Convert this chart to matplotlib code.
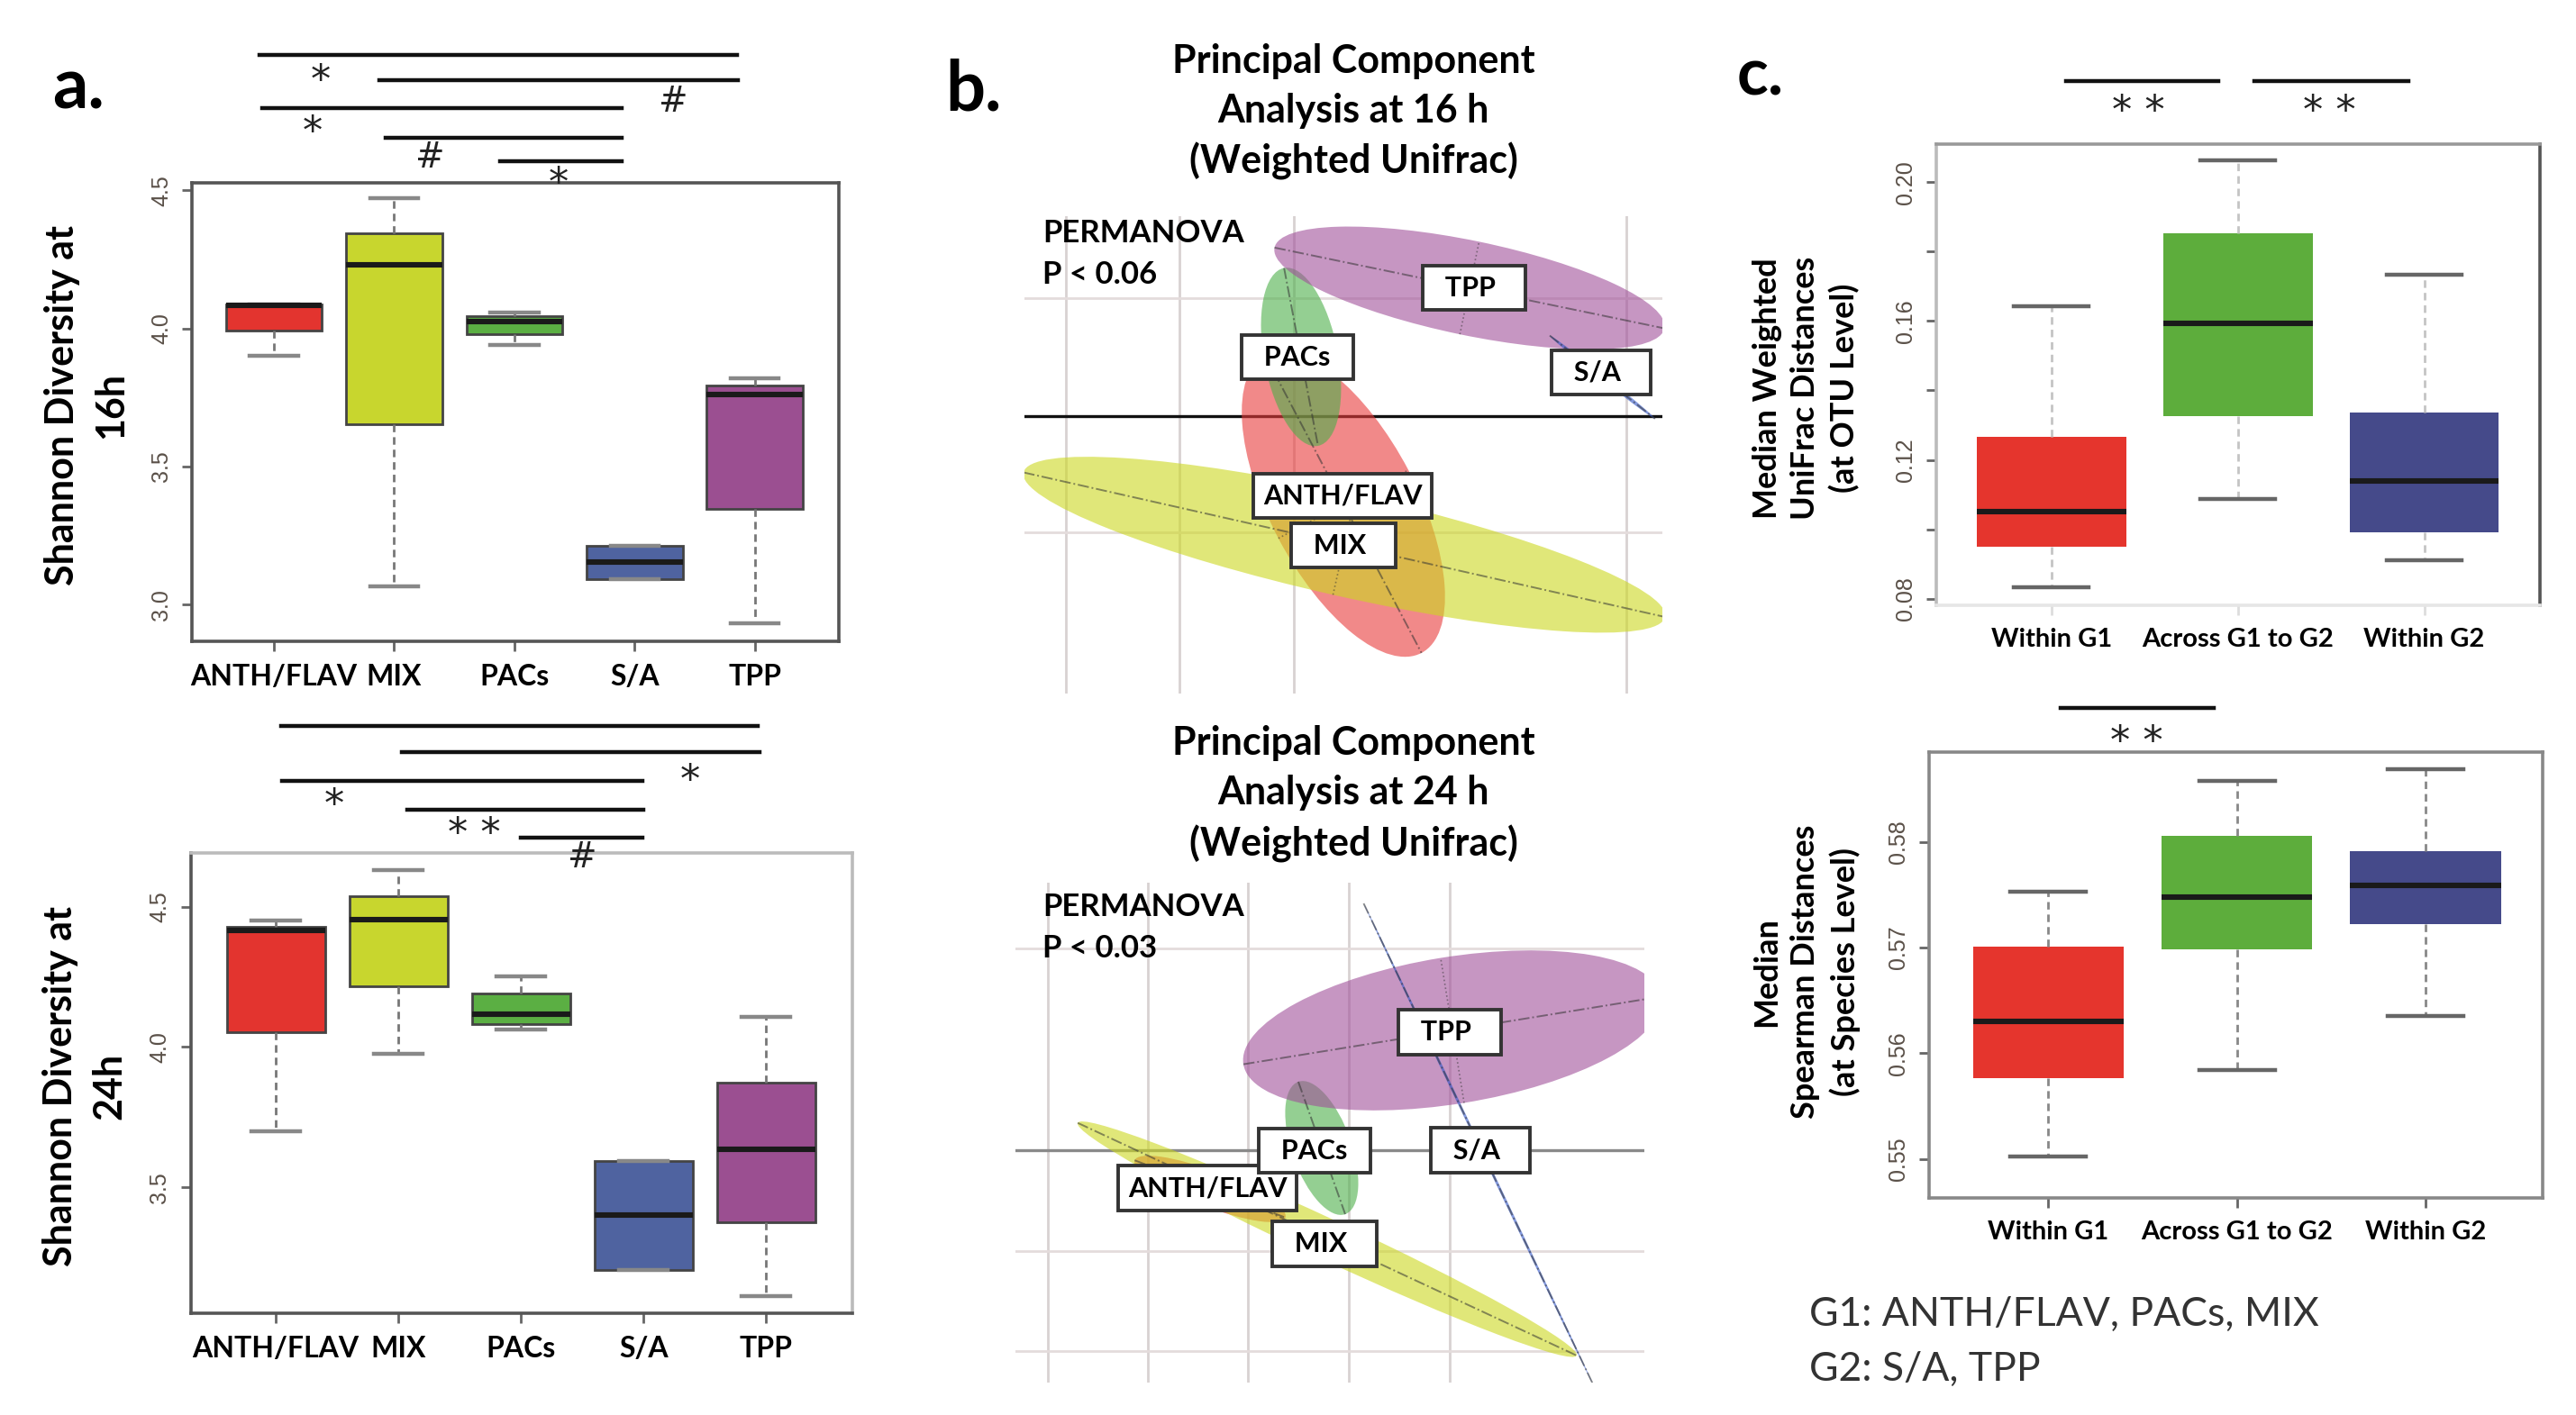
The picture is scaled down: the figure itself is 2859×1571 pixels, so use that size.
import numpy as np
import matplotlib
matplotlib.use('Agg')
import matplotlib.pyplot as plt
from matplotlib.patches import Ellipse
from matplotlib.transforms import offset_copy

plt.rcParams['font.family'] = ['Lato', 'DejaVu Sans']

# ---- panel a: Shannon diversity ----
groups = ['ANTH/FLAV', 'MIX', 'PACs', 'S/A', 'TPP']
box_colors = ['#E3342F', '#C8D62E', '#5BAF43', '#4F63A0', '#9B4F91']

sh16_lo = [3.90, 3.067, 3.94, 3.091, 2.933]
sh16_q1 = [3.992, 3.653, 3.979, 3.091, 3.347]
sh16_med = [4.085, 4.231, 4.026, 3.153, 3.762]
sh16_q3 = [4.086, 4.344, 4.044, 3.212, 3.793]
sh16_hi = [4.086, 4.47, 4.059, 3.212, 3.82]

sh24_lo = [3.70, 3.976, 4.062, 3.205, 3.112]
sh24_q1 = [4.054, 4.215, 4.08, 3.205, 3.376]
sh24_med = [4.415, 4.454, 4.116, 3.40, 3.634]
sh24_q3 = [4.427, 4.537, 4.19, 3.593, 3.873]
sh24_hi = [4.45, 4.63, 4.25, 3.593, 4.106]

# significance bars (x from, x to, y axes frac) and marks (x, y axes frac, text)
sig16_bars = [(0.88, 4.85, 1.277), (1.88, 4.86, 1.222), (0.90, 3.89, 1.162),
              (1.93, 3.89, 1.098), (2.88, 3.89, 1.047)]
sig16_marks = [(1.39, 1.240, '*'), (4.32, 1.176, '#'), (1.32, 1.127, '*'),
               (2.30, 1.054, '#'), (3.37, 1.015, '*')]
sig24_bars = [(1.04, 4.93, 1.277), (2.03, 4.95, 1.2205), (1.05, 3.99, 1.158),
              (2.07, 4.0, 1.094), (3.0, 3.99, 1.034)]
sig24_marks = [(4.38, 1.176, '*'), (1.474, 1.123, '*'), (2.615, 1.059, '* *'),
               (3.50, 0.990, '#')]

# ---- panel c: distances ----
dist_groups = ['Within G1', 'Across G1 to G2', 'Within G2']
dist_colors = ['#E5352D', '#5DAD3C', '#454A8A']

wu_lo = [0.0833, 0.1086, 0.0911]
wu_q1 = [0.095, 0.1326, 0.0991]
wu_med = [0.105, 0.1594, 0.114]
wu_q3 = [0.1267, 0.1854, 0.1336]
wu_hi = [0.1643, 0.2063, 0.1733]

sp_lo = [0.5502, 0.5584, 0.5635]
sp_q1 = [0.5576, 0.5698, 0.5722]
sp_med = [0.563, 0.5748, 0.5759]
sp_q3 = [0.5701, 0.5806, 0.5791]
sp_hi = [0.5753, 0.5858, 0.5869]

wu_bars = [(1.079, 1.895, 1.137), (2.088, 2.914, 1.137)]
wu_marks = [(1.465, 1.088, '* *'), (2.489, 1.088, '* *')]
sp_bars = [(1.064, 1.877, 1.098)]
sp_marks = [(1.466, 1.041, '* *')]

# ---- panel b: PCA ellipses ----
pca_names = ['ANTH/FLAV', 'MIX', 'PACs', 'TPP', 'S/A']
pca_colors = ['#E83A3A', '#CCD820', '#4DAF4A', '#A0509A', '#3055C8']

pca16_cx = [3.08, 3.09, 2.61, 4.48, 5.955]
pca16_cy = [-0.98, -1.43, 0.655, 1.42, 0.43]
pca16_w = [3.73, 7.3, 2.01, 4.42, 1.49]
pca16_h = [1.63, 1.14, 0.82, 1.05, 0.05]
pca16_ang = [-62.3, -12.7, -79.2, -11.7, -38.3]
pca16_lx = [3.07, 3.08, 2.57, 4.53, 5.94]
pca16_ly = [-0.89, -1.44, 0.65, 1.42, 0.48]
pca16_vgrid = [0, 1.26, 2.53, 6.22]
pca16_hgrid = [1.31, -1.29]

pca24_cx = [1.80, 3.10, 3.04, 4.49, 4.775]
pca24_cy = [-0.43, -0.988, 0.025, 1.33, 0.077]
pca24_w = [1.79, 6.11, 1.56, 4.7, 5.9]
pca24_h = [0.40, 0.45, 0.66, 1.63, 0.03]
pca24_ang = [-20.8, -25.0, -70.5, 9.2, -64.5]
pca24_lx = [1.77, 3.07, 2.96, 4.46, 4.80]
pca24_ly = [-0.42, -1.04, -0.005, 1.31, 0.0]
pca24_vgrid = [0, 1.11, 2.225, 3.344, 4.458]
pca24_hgrid = [2.24, -1.115, -2.23]


fig = plt.figure(figsize=(14.295, 7.855), dpi=200)


def boxpanel(ax, lo, q1, med, q3, hi, colors, names, xlim, ylim, yticks, ylabels,
             xfs, edge='#444444', whis='#777777', cap='#888888'):
    stats = [dict(whislo=a, q1=b, med=c, q3=d, whishi=e, fliers=[])
             for a, b, c, d, e in zip(lo, q1, med, q3, hi)]
    pos = np.arange(1, len(stats) + 1)
    bp = ax.bxp(stats, positions=pos, widths=0.8, capwidths=0.4, patch_artist=True,
                showfliers=False, manage_ticks=False,
                boxprops=dict(edgecolor=edge, linewidth=1.0),
                medianprops=dict(color='#1a1a1a', linewidth=2.2),
                whiskerprops=dict(color=whis, linewidth=1.0, linestyle=(0, (3, 2))),
                capprops=dict(color=cap, linewidth=1.6))
    for patch, c in zip(bp['boxes'], colors):
        patch.set_facecolor(c)
    ax.set_xlim(*xlim)
    ax.set_ylim(*ylim)
    ax.set_xticks(pos, names, fontsize=xfs, fontweight='bold')
    ax.set_yticks(yticks, ylabels, rotation=90, va='center', family='Liberation Sans',
                  fontsize=9, color='#5a5048')
    ax.tick_params(axis='both', direction='out', length=4, width=1, color='#666666')
    ax.tick_params(axis='y', pad=4)
    ax.tick_params(axis='x', pad=5)
    for s in ax.spines.values():
        s.set_color('#555555')
        s.set_linewidth(1.3)


def sigbars(ax, bars, marks):
    tr = ax.get_xaxis_transform()
    for x0, x1, y in bars:
        ax.plot([x0, x1], [y, y], color='#111111', lw=1.6, transform=tr, clip_on=False)
    star_tr = offset_copy(tr, fig=fig, y=-3.5, units='points')
    for x, y, t in marks:
        if '*' in t:
            ax.text(x, y, t, transform=star_tr, ha='center', va='center', fontsize=16,
                    family='DejaVu Sans', color='#222222')
        else:
            ax.text(x, y, t, transform=tr, ha='center', va='center', fontsize=14,
                    family='DejaVu Sans', color='#222222')


# panel a
ax_a1 = fig.add_axes([0.0746, 0.5465, 0.2511, 0.3245])
boxpanel(ax_a1, sh16_lo, sh16_q1, sh16_med, sh16_q3, sh16_hi, box_colors, groups,
         (0.32, 5.70), (2.866, 4.528), [3.0, 3.5, 4.0, 4.5], ['3.0', '3.5', '4.0', '4.5'], 11.5)
sigbars(ax_a1, sig16_bars, sig16_marks)

ax_a2 = fig.add_axes([0.074, 0.072, 0.257, 0.325])
boxpanel(ax_a2, sh24_lo, sh24_q1, sh24_med, sh24_q3, sh24_hi, box_colors, groups,
         (0.305, 5.706), (3.052, 4.69), [3.5, 4.0, 4.5], ['3.5', '4.0', '4.5'], 11.5)
ax_a2.spines['top'].set_color('#bbbbbb')
ax_a2.spines['right'].set_color('#bbbbbb')
sigbars(ax_a2, sig24_bars, sig24_marks)

fig.text(0.0336, 0.7136, 'Shannon Diversity at\n16h', rotation=90, ha='center', va='center',
         fontsize=15.5, fontweight='bold', linespacing=1.45)
fig.text(0.033, 0.2323, 'Shannon Diversity at\n24h', rotation=90, ha='center', va='center',
         fontsize=15.5, fontweight='bold', linespacing=1.45)

# panel c
ax_c1 = fig.add_axes([0.7517, 0.572, 0.2343, 0.326])
wu_ticks = [0.08, 0.10, 0.12, 0.14, 0.16, 0.18, 0.20]
wu_labels = ['0.08', '', '0.12', '', '0.16', '', '0.20']
boxpanel(ax_c1, wu_lo, wu_q1, wu_med, wu_q3, wu_hi, dist_colors, dist_groups,
         (0.383, 3.62), (0.078, 0.2109), wu_ticks, wu_labels, 10.5,
         edge='none', whis='#c4c4c4', cap='#666666')
ax_c1.spines['left'].set_color('#bbbbbb')
ax_c1.spines['top'].set_color('#999999')
ax_c1.spines['bottom'].set_color('#e6e6e6')
ax_c1.tick_params(axis='x', color='#dddddd')
sigbars(ax_c1, wu_bars, wu_marks)

ax_c2 = fig.add_axes([0.749, 0.1534, 0.238, 0.3151])
boxpanel(ax_c2, sp_lo, sp_q1, sp_med, sp_q3, sp_hi, dist_colors, dist_groups,
         (0.37, 3.62), (0.5463, 0.5885), [0.55, 0.56, 0.57, 0.58],
         ['0.55', '0.56', '0.57', '0.58'], 10.5, edge='none', whis='#888888', cap='#666666')
for s in ax_c2.spines.values():
    s.set_color('#888888')
sigbars(ax_c2, sp_bars, sp_marks)

fig.text(0.7011, 0.7257, 'Median Weighted\nUniFrac Distances\n(at OTU Level)', rotation=90,
         ha='center', va='center', fontsize=13, fontweight='bold', linespacing=1.35)
fig.text(0.7011, 0.3132, 'Median\nSpearman Distances\n(at Species Level)', rotation=90,
         ha='center', va='center', fontsize=13, fontweight='bold', linespacing=1.35)
fig.text(0.7022, 0.0517, 'G1: ANTH/FLAV, PACs, MIX\nG2: S/A, TPP', ha='left', va='center',
         fontsize=16, color='#333333', linespacing=1.6)


# panel b
def pcapanel(ax, cx, cy, w, h, ang, lx, ly, vgrid, hgrid, zero_color, xlim, ylim):
    ax.set_xlim(*xlim)
    ax.set_ylim(*ylim)
    ax.axis('off')
    for v in vgrid:
        ax.axvline(v, color='#d8d2d2', lw=1.0, zorder=0)
    for hh in hgrid:
        ax.axhline(hh, color='#e4dcdc', lw=1.0, zorder=0)
    ax.axhline(0, color=zero_color, lw=1.2, zorder=0.5)
    for i, name in enumerate(pca_names):
        e = Ellipse((cx[i], cy[i]), w[i], h[i], angle=ang[i], facecolor=pca_colors[i],
                    alpha=0.6, edgecolor='none', zorder=1 + i * 0.1)
        ax.add_patch(e)
        t = np.deg2rad(ang[i])
        dx, dy = w[i] / 2 * np.cos(t), w[i] / 2 * np.sin(t)
        ax.plot([cx[i] - dx, cx[i] + dx], [cy[i] - dy, cy[i] + dy], color='#333333',
                lw=0.7, ls='-.', alpha=0.55, zorder=2)
        mx, my = -h[i] / 2 * np.sin(t), h[i] / 2 * np.cos(t)
        ax.plot([cx[i] - mx, cx[i] + mx], [cy[i] - my, cy[i] + my], color='#333333',
                lw=0.6, ls=':', alpha=0.5, zorder=2)
    for i, name in enumerate(pca_names):
        ax.text(lx[i], ly[i], name.center(8), ha='center', va='center', fontsize=11,
                fontweight='bold', zorder=5,
                bbox=dict(boxstyle='square,pad=0.35', facecolor='white',
                          edgecolor='#333333', linewidth=1.4))


ax_b1 = fig.add_axes([0.3977, 0.510, 0.2476, 0.3374])
pcapanel(ax_b1, pca16_cx, pca16_cy, pca16_w, pca16_h, pca16_ang, pca16_lx, pca16_ly,
         pca16_vgrid, pca16_hgrid, '#111111', (-0.46, 6.62), (-3.08, 2.22))
ax_b2 = fig.add_axes([0.3942, 0.0229, 0.2441, 0.3533])
pcapanel(ax_b2, pca24_cx, pca24_cy, pca24_w, pca24_h, pca24_ang, pca24_lx, pca24_ly,
         pca24_vgrid, pca24_hgrid, '#8a8a8a', (-0.36, 6.62), (-2.58, 2.97))

fig.text(0.5254, 0.921, 'Principal Component\nAnalysis at 16 h\n(Weighted Unifrac)',
         ha='center', va='center', fontsize=15.5, fontweight='bold', linespacing=1.45)
fig.text(0.5254, 0.4388, 'Principal Component\nAnalysis at 24 h\n(Weighted Unifrac)',
         ha='center', va='center', fontsize=15.5, fontweight='bold', linespacing=1.45)
fig.text(0.4047, 0.8207, 'PERMANOVA\nP < 0.06', ha='left', va='center', fontsize=12.5,
         fontweight='bold', linespacing=1.55)
fig.text(0.4047, 0.3445, 'PERMANOVA\nP < 0.03', ha='left', va='center', fontsize=12.5,
         fontweight='bold', linespacing=1.55)

# panel letters
fig.text(0.0203, 0.9236, 'a.', fontsize=28, fontweight='bold', va='baseline')
fig.text(0.367, 0.922, 'b.', fontsize=28, fontweight='bold', va='baseline')
fig.text(0.6744, 0.933, 'c.', fontsize=26, fontweight='bold', va='baseline')

fig.savefig('out.png', dpi=200, facecolor='white')
